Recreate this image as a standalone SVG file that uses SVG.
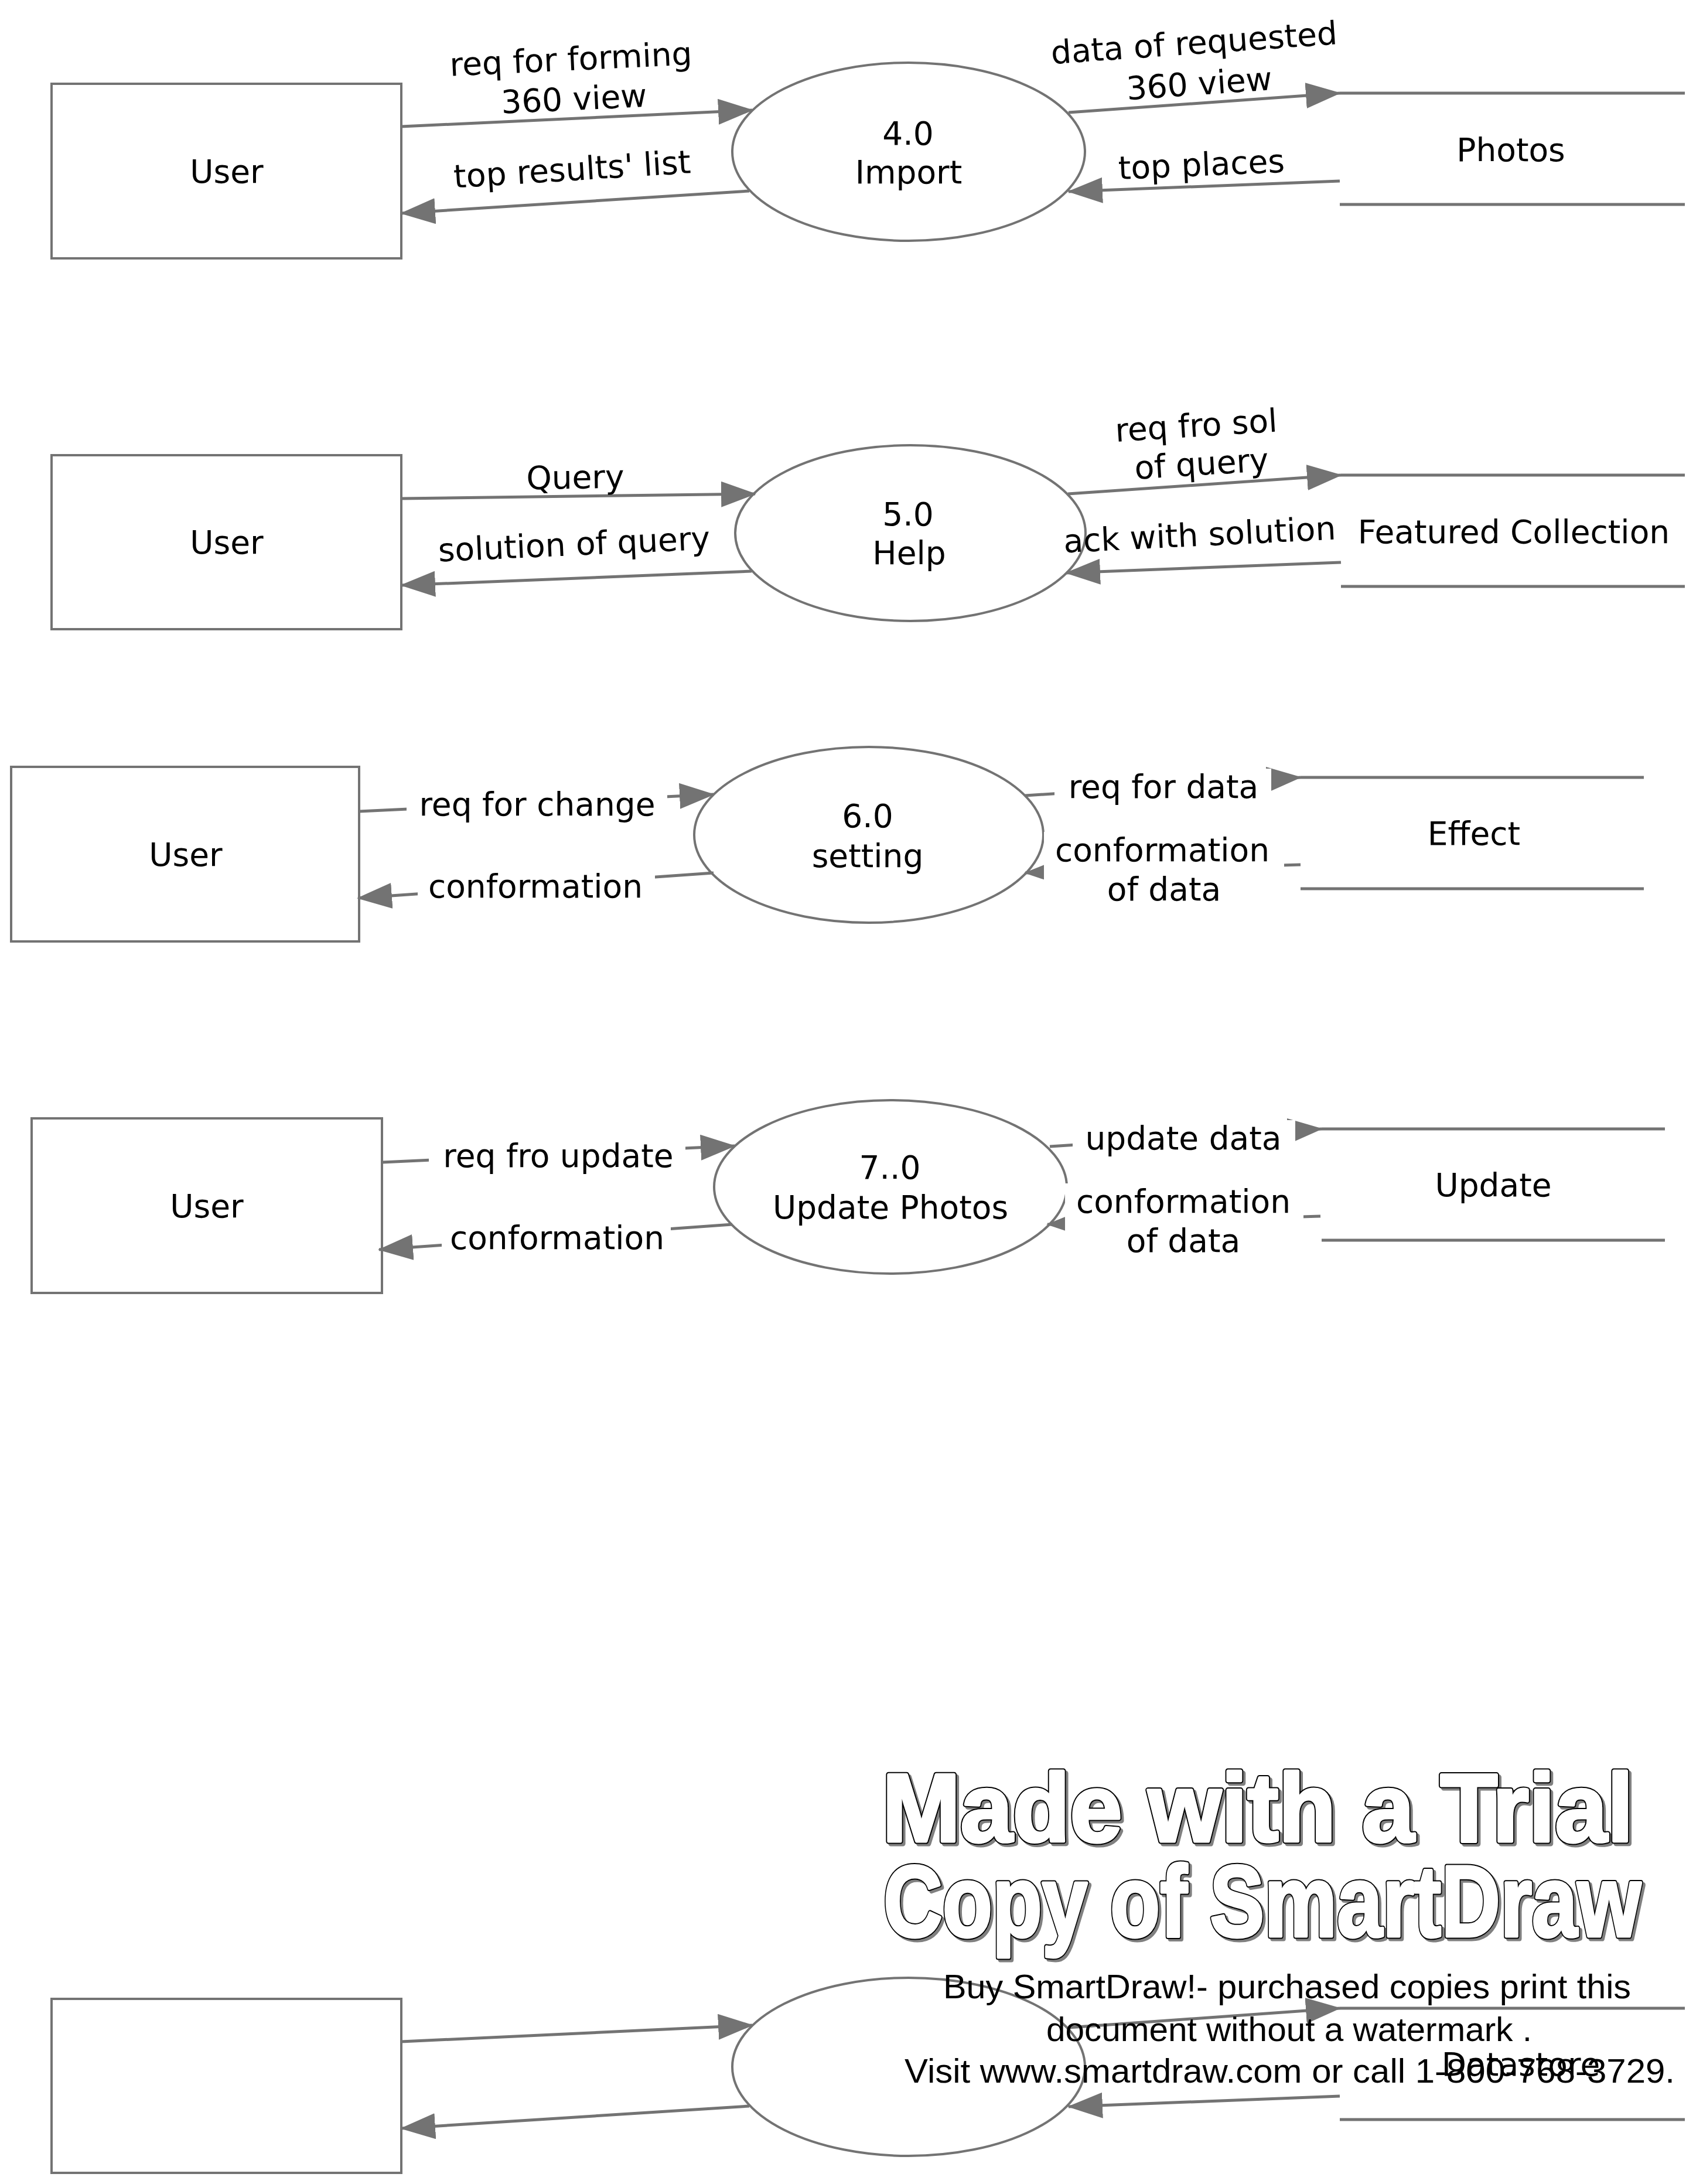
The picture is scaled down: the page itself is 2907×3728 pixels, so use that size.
<svg xmlns="http://www.w3.org/2000/svg" width="2907" height="3728" viewBox="0 0 2907 3728">
<defs>
<marker id="ah" markerUnits="userSpaceOnUse" markerWidth="60" markerHeight="44" viewBox="0 0 60 44" refX="58" refY="22" orient="auto">
<path d="M0,0 L60,22 L0,44 z" fill="#737373"/>
</marker>
<style>
.box{fill:#fff;stroke:#737373;stroke-width:4}
.proc{fill:#fff;stroke:#737373;stroke-width:4}
.store{stroke:#737373;stroke-width:5;fill:none}
.flow{stroke:#737373;stroke-width:5;fill:none;marker-end:url(#ah)}
.t{font-family:"DejaVu Sans",Verdana,sans-serif;font-size:55px;fill:#000;text-anchor:middle}
.bg{fill:#fff}
.wm{font-family:"Liberation Sans",Arial,sans-serif;font-weight:bold;stroke-linejoin:round}
.wms{fill:#808080;stroke:#808080;stroke-width:9}
.wmk{fill:#000;stroke:#000;stroke-width:9}
.wmw{fill:#fff;stroke:#fff;stroke-width:5}
.wt{font-family:"Liberation Sans",Arial,sans-serif;font-size:58px;fill:#000}
</style>
</defs>
<rect width="2907" height="3728" fill="#fff"/>

<!-- Section 1 -->
<g id="user1"><rect class="box" x="88" y="143" width="597" height="298"/><text class="t" x="387" y="312">User</text></g>
<g id="proc4"><ellipse class="proc" cx="1551" cy="259" rx="301" ry="152"/><text class="t" x="1550" y="247">4.0</text><text class="t" x="1551" y="313">Import</text></g>
<g id="storePhotos"><line class="store" x1="2287" y1="159" x2="2876" y2="159"/><line class="store" x1="2287" y1="349" x2="2876" y2="349"/><text class="t" x="2579" y="275">Photos</text></g>

<!-- Section 2 -->
<g id="user2"><rect class="box" x="88" y="777" width="597" height="297"/><text class="t" x="387" y="945">User</text></g>
<g id="proc5"><ellipse class="proc" cx="1554" cy="910" rx="299" ry="150"/><text class="t" x="1550" y="897">5.0</text><text class="t" x="1552" y="963">Help</text></g>
<g id="storeFeatured"><line class="store" x1="2289" y1="811" x2="2876" y2="811"/><line class="store" x1="2289" y1="1001" x2="2876" y2="1001"/><text class="t" x="2584" y="927">Featured Collection</text></g>

<!-- Section 3 -->
<g id="user3"><rect class="box" x="19" y="1309" width="594" height="298"/><text class="t" x="317" y="1478">User</text></g>
<g id="proc6"><ellipse class="proc" cx="1483" cy="1425" rx="298" ry="150"/><text class="t" x="1481" y="1412">6.0</text><text class="t" x="1481" y="1480">setting</text></g>
<g id="storeEffect"><line class="store" x1="2220" y1="1327" x2="2806" y2="1327"/><line class="store" x1="2220" y1="1517" x2="2806" y2="1517"/><text class="t" x="2516" y="1442">Effect</text></g>

<!-- Section 4 -->
<g id="user4"><rect class="box" x="54" y="1909" width="598" height="298"/><text class="t" x="353" y="2078">User</text></g>
<g id="proc7"><ellipse class="proc" cx="1520" cy="2026" rx="301" ry="148"/><text class="t" x="1519" y="2012">7..0</text><text class="t" x="1520" y="2080">Update Photos</text></g>
<g id="storeUpdate"><line class="store" x1="2256" y1="1927" x2="2842" y2="1927"/><line class="store" x1="2256" y1="2117" x2="2842" y2="2117"/><text class="t" x="2549" y="2042">Update</text></g>

<!-- Section 5 -->
<g id="user5"><rect class="box" x="88" y="3412" width="597" height="297"/></g>
<g id="proc8"><ellipse class="proc" cx="1551" cy="3528" rx="301" ry="152"/></g>
<g id="storeData"><line class="store" x1="2287" y1="3428" x2="2876" y2="3428"/><line class="store" x1="2287" y1="3618" x2="2876" y2="3618"/><text class="t" x="2596" y="3543">Datastore</text></g>

<g id="connectors">
<path class="flow" d="M685,216 L1284,188"/>
<path class="flow" d="M1279,326 L685,364"/>
<path class="flow" d="M1824,192 L2287,159"/>
<path class="flow" d="M2287,309 L1824,327"/>

<path class="flow" d="M685,851 L1289,843"/>
<path class="flow" d="M1283,975 L685,999"/>
<path class="flow" d="M1823,843 L2289,811"/>
<path class="flow" d="M2289,960 L1820,978"/>

<path class="flow" d="M613,1385 L1218,1356"/>
<path class="flow" d="M1218,1490 L611,1533"/>
<path class="flow" d="M1750,1358 L2220,1327"/>
<path class="flow" d="M2220,1476 L1750,1490"/>

<path class="flow" d="M652,1984 L1254,1956"/>
<path class="flow" d="M1250,2090 L647,2133"/>
<path class="flow" d="M1792,1957 L2256,1927"/>
<path class="flow" d="M2254,2076 L1788,2090"/>

<path class="flow" d="M685,3485 L1284,3457"/>
<path class="flow" d="M1279,3595 L685,3633"/>
<path class="flow" d="M1824,3461 L2287,3428"/>
<path class="flow" d="M2287,3578 L1824,3596"/>

<!-- labels section 1 -->
<text class="t" transform="rotate(-2.7 977 154)"><tspan x="977" y="120">req for forming</tspan><tspan x="979" y="188">360 view</tspan></text>
<text class="t" transform="rotate(-3.6 977 295)" x="977" y="308">top results' list</text>
<text class="t" transform="rotate(-4 2044 127)"><tspan x="2042" y="92">data of requested</tspan><tspan x="2046" y="162">360 view</tspan></text>
<text class="t" transform="rotate(-2.5 2051 285)" x="2051" y="300">top places</text>

<!-- labels section 2 -->
<text class="t" transform="rotate(-0.8 982 820)" x="982" y="834">Query</text>
<text class="t" transform="rotate(-2.6 980 932)" x="980" y="948">solution of query</text>
<text class="t" transform="rotate(-3.6 2047 778)"><tspan x="2045" y="745">req fro sol</tspan><tspan x="2050" y="811">of query</tspan></text>
<text class="t" transform="rotate(-2.8 2048 918)" x="2048" y="932">ack with solution</text>

<!-- labels section 3 -->
<rect class="bg" x="694" y="1340" width="445" height="70"/>
<text class="t" x="917" y="1392">req for change</text>
<rect class="bg" x="713" y="1485" width="405" height="62"/>
<text class="t" x="914" y="1532">conformation</text>
<rect class="bg" x="1800" y="1312" width="370" height="66"/>
<text class="t" x="1986" y="1362">req for data</text>
<rect class="bg" x="1782" y="1420" width="410" height="132"/>
<text class="t"><tspan x="1984" y="1470">conformation</tspan><tspan x="1987" y="1537">of data</tspan></text>

<!-- labels section 4 -->
<rect class="bg" x="732" y="1942" width="438" height="68"/>
<text class="t" x="953" y="1992">req fro update</text>
<rect class="bg" x="754" y="2085" width="391" height="62"/>
<text class="t" x="951" y="2132">conformation</text>
<rect class="bg" x="1831" y="1912" width="380" height="68"/>
<text class="t" x="2020" y="1962">update data</text>
<rect class="bg" x="1818" y="2020" width="407" height="132"/>
<text class="t"><tspan x="2020" y="2070">conformation</tspan><tspan x="2020" y="2137">of data</tspan></text>
</g>

<g id="watermark">
<text class="wm wms" x="1510" y="3147" font-size="165" textLength="1282" lengthAdjust="spacingAndGlyphs">Made with a Trial</text>
<text class="wm wmk" x="1506" y="3143" font-size="165" textLength="1282" lengthAdjust="spacingAndGlyphs">Made with a Trial</text>
<text class="wm wmw" x="1506" y="3143" font-size="165" textLength="1282" lengthAdjust="spacingAndGlyphs">Made with a Trial</text>
<text class="wm wms" x="1512" y="3309" font-size="172" textLength="1293" lengthAdjust="spacingAndGlyphs">Copy of SmartDraw</text>
<text class="wm wmk" x="1508" y="3305" font-size="172" textLength="1293" lengthAdjust="spacingAndGlyphs">Copy of SmartDraw</text>
<text class="wm wmw" x="1508" y="3305" font-size="172" textLength="1293" lengthAdjust="spacingAndGlyphs">Copy of SmartDraw</text>
<text class="wt" x="1610" y="3411" textLength="1174" lengthAdjust="spacingAndGlyphs">Buy SmartDraw!- purchased copies print this</text>
<text class="wt" x="1786" y="3484" textLength="829" lengthAdjust="spacingAndGlyphs">document without a watermark .</text>
<text class="wt" x="1544" y="3555" textLength="1315" lengthAdjust="spacingAndGlyphs">Visit www.smartdraw.com or call 1-800-768-3729.</text>
</g>
</svg>
